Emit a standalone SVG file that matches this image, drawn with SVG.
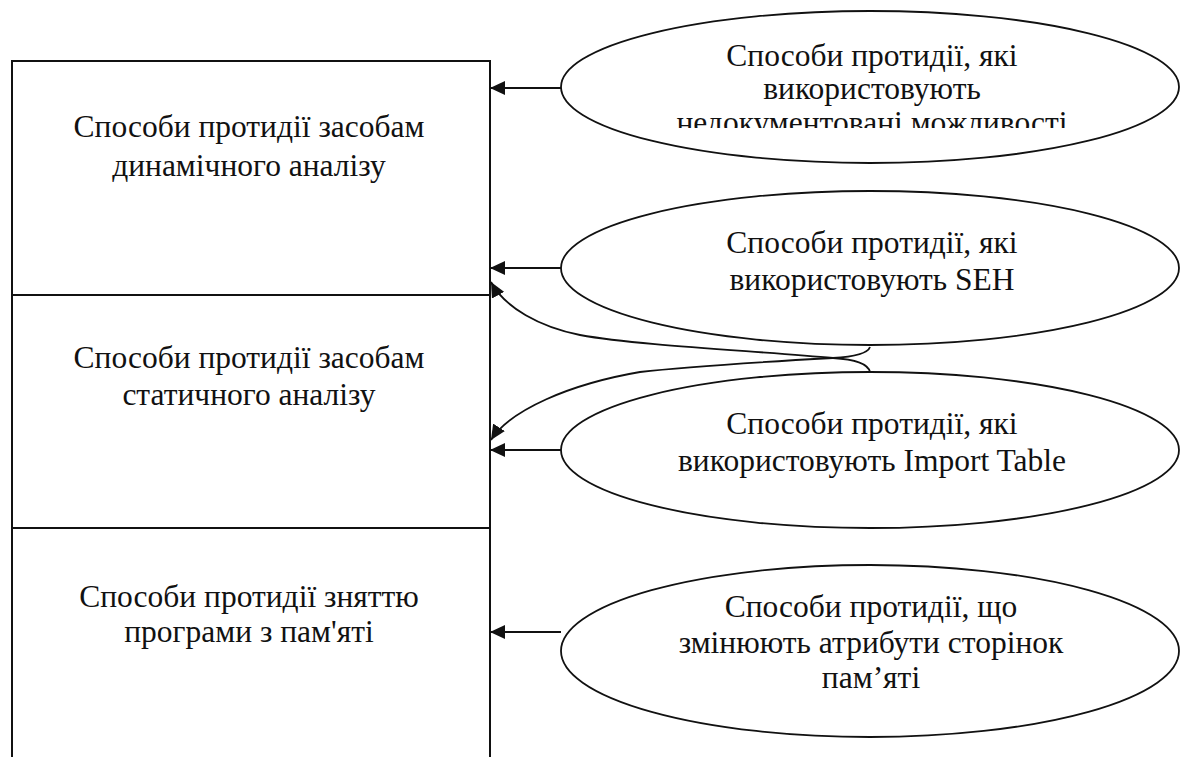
<svg xmlns="http://www.w3.org/2000/svg" width="1184" height="757" viewBox="0 0 1184 757">
  <style>
    .frame { fill: none; stroke: #111; stroke-width: 2; }
    .oval { fill: #fff; stroke: #111; stroke-width: 1.8; }
    .link { fill: none; stroke: #111; stroke-width: 1.8; }
    .lbl { font-family: "Liberation Serif", "Times New Roman", serif; font-size: 31.5px; fill: #111; text-anchor: middle; }
  </style>
  <defs>
    <marker id="head" markerWidth="16" markerHeight="14" refX="15" refY="7" orient="auto" markerUnits="userSpaceOnUse">
      <path d="M0,0 L15,7 L0,14 Z" fill="#111"/>
    </marker>
    <!-- the top oval's text box cuts off its last line -->
    <clipPath id="clip-top">
      <rect x="560" y="0" width="620" height="128"/>
    </clipPath>
  </defs>
  <rect width="1184" height="757" fill="#fff"/>

  <!-- left column of three stacked categories -->
  <g id="dynamic">
    <path class="frame" d="M12,295 L12,61 L490,61 L490,295"/>
    <text class="lbl" x="249" y="137">Способи протидії засобам</text>
    <text class="lbl" x="249" y="176">динамічного аналізу</text>
  </g>
  <g id="static">
    <path class="frame" d="M12,528 L12,295 L490,295 L490,528"/>
    <text class="lbl" x="249" y="368">Способи протидії засобам</text>
    <text class="lbl" x="249" y="405">статичного аналізу</text>
  </g>
  <g id="unload">
    <path class="frame" d="M12,760 L12,528 L490,528 L490,760"/>
    <text class="lbl" x="249" y="607">Способи протидії зняттю</text>
    <text class="lbl" x="249" y="642">програми з пам'яті</text>
  </g>

  <!-- connectors -->
  <g id="connectors">
    <line class="link" x1="561" y1="88" x2="490" y2="88" marker-end="url(#head)"/>
    <line class="link" x1="561" y1="268" x2="490" y2="268" marker-end="url(#head)"/>
    <line class="link" x1="561" y1="450" x2="490" y2="450" marker-end="url(#head)"/>
    <line class="link" x1="561" y1="632" x2="490" y2="632" marker-end="url(#head)"/>
    <path class="link" d="M870,372 Q867,360 833,358 C760,351 640,346 580,335 C540,327 505,308 491,282" marker-end="url(#head)"/>
    <path class="link" d="M870,347 Q867,356 833,358 C760,362 690,366 640,372 C570,384 510,410 491,440" marker-end="url(#head)"/>
  </g>

  <!-- right column of techniques -->
  <g id="undocumented">
    <ellipse class="oval" cx="870" cy="87" rx="309" ry="76"/>
    <g clip-path="url(#clip-top)">
      <text class="lbl" x="872" y="66">Способи протидії, які</text>
      <text class="lbl" x="872" y="99">використовують</text>
      <text class="lbl" x="872" y="133">недокументовані можливості</text>
    </g>
  </g>
  <g id="seh">
    <ellipse class="oval" cx="870" cy="268" rx="309" ry="77"/>
    <text class="lbl" x="872" y="253">Способи протидії, які</text>
    <text class="lbl" x="872" y="290">використовують SEH</text>
  </g>
  <g id="import-table">
    <ellipse class="oval" cx="870" cy="450" rx="309" ry="78"/>
    <text class="lbl" x="872" y="434">Способи протидії, які</text>
    <text class="lbl" x="872" y="471">використовують Import Table</text>
  </g>
  <g id="page-attrs">
    <ellipse class="oval" cx="870" cy="651" rx="309" ry="86"/>
    <text class="lbl" x="871" y="617">Способи протидії, що</text>
    <text class="lbl" x="871" y="653">змінюють атрибути сторінок</text>
    <text class="lbl" x="871" y="688">пам’яті</text>
  </g>
</svg>
